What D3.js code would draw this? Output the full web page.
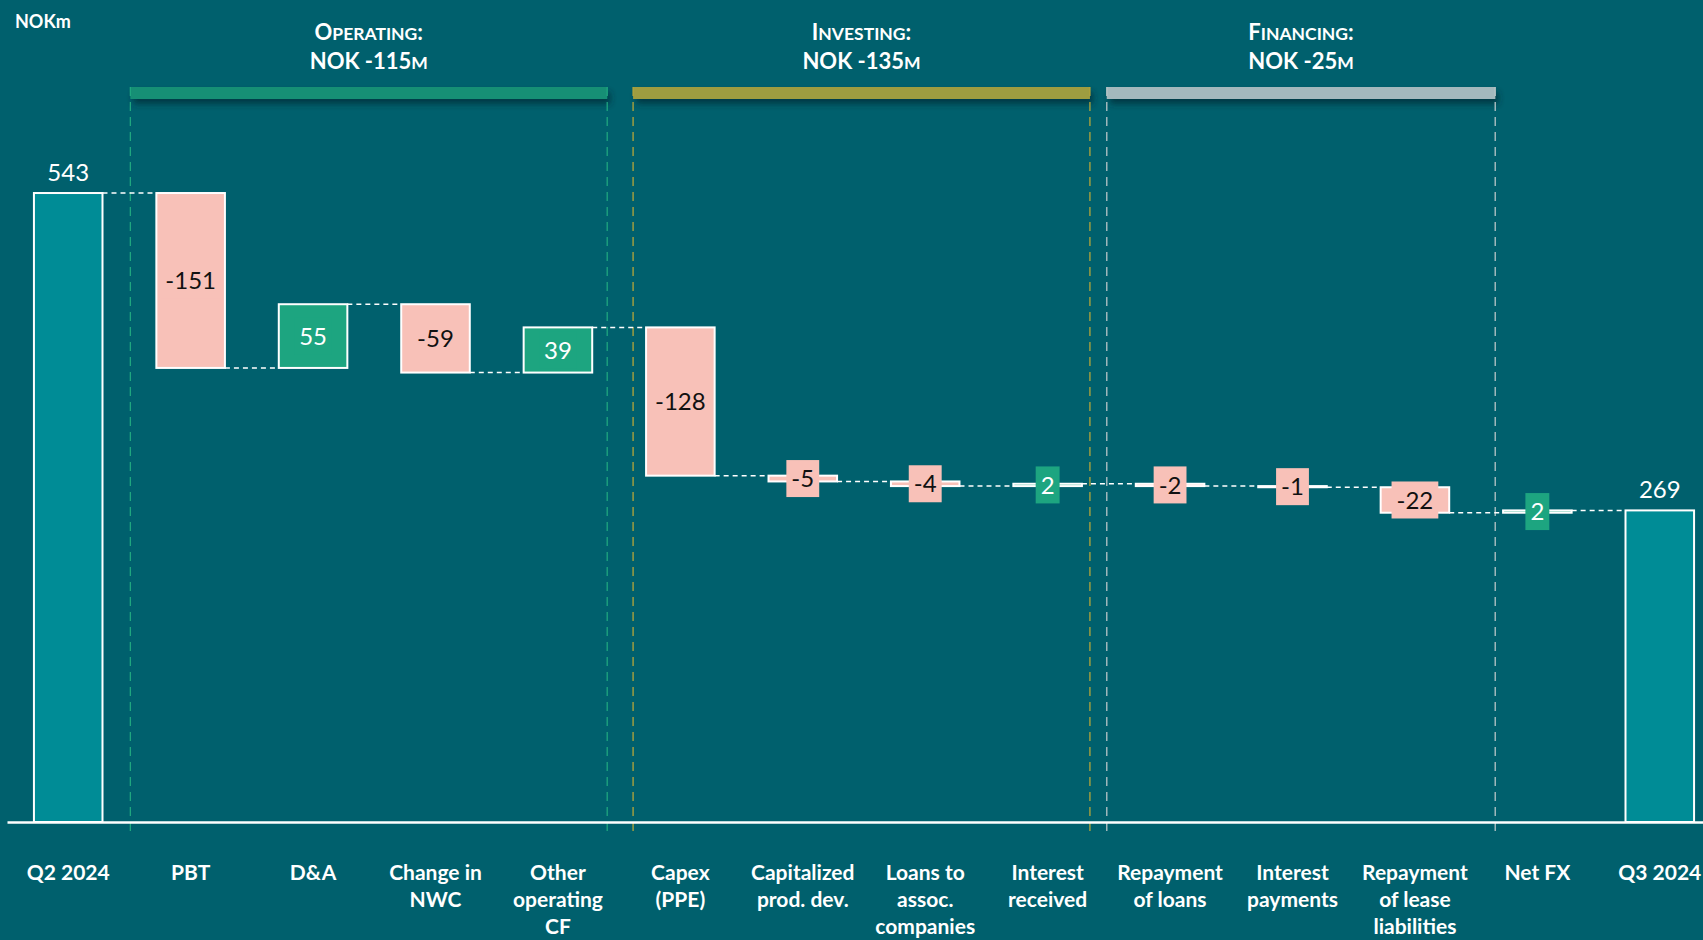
<!DOCTYPE html>
<html>
<head>
<meta charset="utf-8">
<script src="https://cdn.jsdelivr.net/npm/d3@7"></script>
<style>
  html, body { margin: 0; padding: 0; background: #00606d; }
  svg { display: block; }
  text { font-family: Lato, "Open Sans", sans-serif; }
</style>
</head>
<body>
<svg id="chart" width="1703" height="940"></svg>
<script>
// Cash flow bridge, NOKm
const categories = ["Q2 2024", "PBT", "D&A", "Change in NWC", "Other operating CF", "Capex (PPE)",
  "Capitalized prod. dev.", "Loans to assoc. companies", "Interest received", "Repayment of loans",
  "Interest payments", "Repayment of lease liabilities", "Net FX", "Q3 2024"];
const tickLines = [["Q2 2024"], ["PBT"], ["D&A"], ["Change in", "NWC"], ["Other", "operating", "CF"],
  ["Capex", "(PPE)"], ["Capitalized", "prod. dev."], ["Loans to", "assoc.", "companies"],
  ["Interest", "received"], ["Repayment", "of loans"], ["Interest", "payments"],
  ["Repayment", "of lease", "liabilities"], ["Net FX"], ["Q3 2024"]];
const values = [543, -151, 55, -59, 39, -128, -5, -4, 2, -2, -1, -22, 2, 269];
const isTotal = [true, false, false, false, false, false, false, false, false, false, false, false, false, true];

const groupTitles = ["Operating:", "Investing:", "Financing:"];
const groupTotals = ["NOK -115m", "NOK -135m", "NOK -25m"];
const groupFirst = ["PBT", "Capex (PPE)", "Repayment of loans"];
const groupLast = ["Other operating CF", "Interest received", "Repayment of lease liabilities"];

// styling
const C = {
  bg: "#00606d", total: "#008c96", neg: "#f8c1b8", pos: "#1da580",
  groups: ["#178f74", "#9e9d41", "#a3b9bd"],
  groupLine: ["#1fa67f", "#b4a63a", "#b9c6c8"]
};
// horizontal insets of each group header bar relative to its first/last bar (px)
const groupInset = [[26, 15], [13, 8], [29, 46]];

const svg = d3.select("#chart");
svg.append("rect").attr("width", 1703).attr("height", 940).attr("fill", C.bg);

const defs = svg.append("defs");
const f = defs.append("filter").attr("id", "shadow").attr("x", "-5%").attr("y", "-100%")
  .attr("width", "110%").attr("height", "400%");
f.append("feDropShadow").attr("dx", 3).attr("dy", 5).attr("stdDeviation", 3)
  .attr("flood-color", "#002a30").attr("flood-opacity", 0.7);

const x = d3.scaleBand().domain(categories).range([7, 1721]).paddingInner(0.44).paddingOuter(0.22);
const y = d3.scaleLinear().domain([0, 600]).range([822, 127]);
const bw = x.bandwidth();

// running levels
let run = 0;
const bars = categories.map((c, i) => {
  let y0, y1;
  if (isTotal[i]) { y0 = 0; y1 = values[i]; run = values[i]; }
  else { y0 = run; y1 = run + values[i]; run = y1; }
  return { c, i, v: values[i], y0, y1, level: run, total: isTotal[i] };
});

// group header bars and dashed dividers
groupTitles.forEach((t, g) => {
  const x0 = x(groupFirst[g]) - groupInset[g][0];
  const x1 = x(groupLast[g]) + bw + groupInset[g][1];
  svg.append("rect").attr("x", x0).attr("y", 87).attr("width", x1 - x0).attr("height", 12)
    .attr("fill", C.groups[g]).attr("filter", "url(#shadow)");
  [x0, x1].forEach(xx => {
    svg.append("line").attr("x1", xx).attr("x2", xx).attr("y1", 87).attr("y2", 834)
      .attr("stroke", C.groupLine[g]).attr("stroke-width", 1.3).attr("stroke-dasharray", "9,6");
  });
  const cx = (x0 + x1) / 2;
  smallCaps(svg.append("text").attr("x", cx).attr("y", 40), t, 22, 17.5);
  smallCaps(svg.append("text").attr("x", cx).attr("y", 69), groupTotals[g], 22, 17.5);
});

function smallCaps(sel, str, big, small) {
  sel.attr("text-anchor", "middle").attr("fill", "#fff").attr("font-weight", 700);
  const runs = [];
  for (const ch of str) {
    const lower = ch !== ch.toUpperCase();
    const last = runs[runs.length - 1];
    if (last && last.lower === lower) last.s += ch; else runs.push({ lower, s: ch });
  }
  runs.forEach(r => sel.append("tspan").attr("font-size", r.lower ? small : big)
    .text(r.lower ? r.s.toUpperCase() : r.s));
}

// unit label
svg.append("text").attr("x", 15).attr("y", 28).attr("fill", "#fff").attr("font-weight", 700)
  .attr("font-size", 18).text("NOKm");

// bars
const colorOf = d => d.total ? C.total : (d.v < 0 ? C.neg : C.pos);
svg.append("g").selectAll("rect").data(bars).join("rect")
  .attr("x", d => x(d.c)).attr("width", bw)
  .attr("y", d => y(Math.max(d.y0, d.y1)))
  .attr("height", d => Math.abs(y(d.y0) - y(d.y1)))
  .attr("fill", colorOf).attr("stroke", "#fff").attr("stroke-width", 2);

// connectors
svg.append("g").selectAll("line").data(bars.slice(0, -1)).join("line")
  .attr("x1", d => x(d.c) + bw).attr("x2", d => x(categories[d.i + 1]))
  .attr("y1", d => y(d.level)).attr("y2", d => y(d.level))
  .attr("stroke", "#fff").attr("stroke-width", 1.5).attr("stroke-dasharray", "5,4");

// axis
const axis = svg.append("g").attr("transform", "translate(0,822)")
  .call(d3.axisBottom(x).tickSize(0).tickFormat(""));
axis.select(".domain").attr("stroke", "#fff").attr("stroke-width", 2.5);
axis.selectAll(".tick").each(function (c, i) {
  const t = d3.select(this).append("text").attr("fill", "#fff").attr("font-weight", 700)
    .attr("font-size", 21).attr("text-anchor", "middle").attr("y", 58);
  tickLines[i].forEach((ln, k) => t.append("tspan").attr("x", 0).attr("dy", k ? 27 : 0).text(ln));
});

// value labels
const lab = svg.append("g");
bars.forEach(d => {
  const cx = x(d.c) + bw / 2;
  if (d.total) {
    lab.append("text").attr("x", cx).attr("y", y(d.v) - 12).attr("text-anchor", "middle")
      .attr("fill", "#fff").attr("font-size", 24).text(d.v);
    return;
  }
  const cy = (y(d.y0) + y(d.y1)) / 2;
  const t = lab.append("text").attr("x", cx).attr("y", cy).attr("dy", "0.36em")
    .attr("text-anchor", "middle").attr("font-size", 24)
    .attr("fill", d.v < 0 ? "#111" : "#fff").text(d.v);
  const bb = t.node().getBBox();
  const bh = 37, bwid = bb.width + 10;
  lab.insert("rect", () => t.node()).attr("x", cx - bwid / 2).attr("y", cy - bh / 2)
    .attr("width", bwid).attr("height", bh).attr("fill", colorOf(d));
});
</script>
</body>
</html>
